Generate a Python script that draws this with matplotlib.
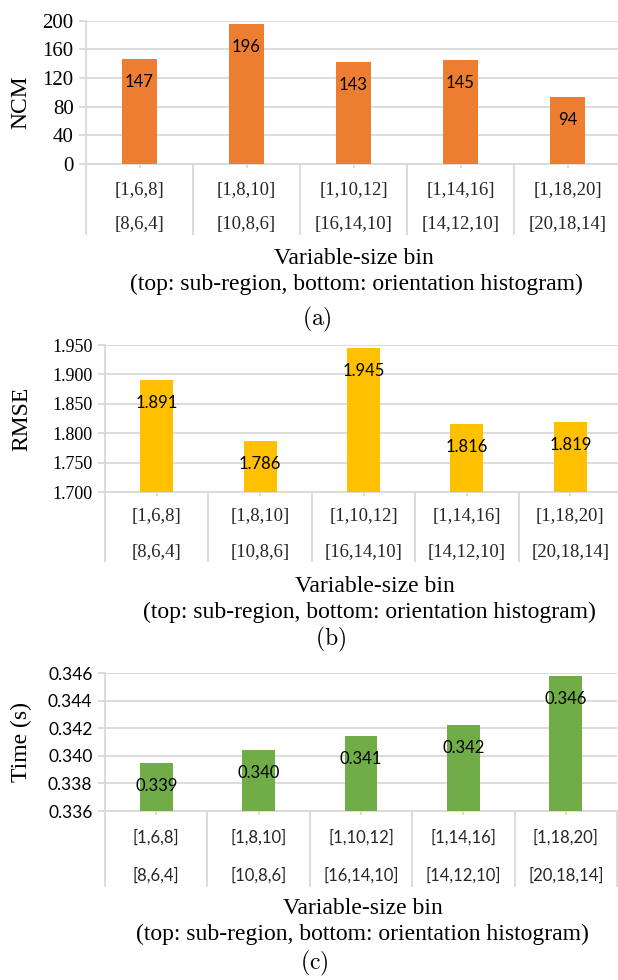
""" Three Excel-style bar charts: NCM, RMSE and time against variable-size bins """

import matplotlib
matplotlib.use('Agg')
import matplotlib.pyplot as plt
import numpy

# bin labels, top row: sub-region, bottom row: orientation histogram
sub_region = ['[1,6,8]', '[1,8,10]', '[1,10,12]', '[1,14,16]', '[1,18,20]']
orient_hist = ['[8,6,4]', '[10,8,6]', '[16,14,10]', '[14,12,10]', '[20,18,14]']

ncm = [147, 196, 143, 145, 94]
rmse = [1.891, 1.786, 1.945, 1.816, 1.819]
times = [0.33948, 0.34042, 0.34143, 0.34223, 0.34578]

ncm_ticks = [0, 40, 80, 120, 160, 200]
rmse_ticks = [1.700, 1.750, 1.800, 1.850, 1.900, 1.950]
time_ticks = [0.336, 0.338, 0.340, 0.342, 0.344, 0.346]

W, H = 618, 980
GRID = '#D9D9D9'
SERIF = 'Liberation Serif'
SANS = 'Lato'

plt.rcParams['mathtext.fontset'] = 'cm'
fig = plt.figure(figsize=(W / 100, H / 100), dpi=100)


def px_axes(left, top, right, bottom):
    return fig.add_axes([left / W, 1 - bottom / H, (right - left) / W, (bottom - top) / H])


def bar_panel(box, values, ticks, fmt, color, ylab, ylab_pos, tick_font, tick_size,
              cat_font, cat_size, rows, sep_len, xlab_pos, caption, cap_pos):
    ax = px_axes(*box)
    x = numpy.arange(len(values))
    ax.bar(x, values, width=0.32, color=color, zorder=3)
    ax.set_xlim(-0.5, len(values) - 0.5)
    ax.set_ylim(ticks[0], ticks[-1])
    ax.set_yticks(ticks)
    ax.set_yticklabels([fmt % t for t in ticks], fontfamily=tick_font, fontsize=tick_size)
    ax.yaxis.grid(True, color=GRID, lw=1.3, zorder=0)
    ax.tick_params(axis='y', length=5, width=1.3, color=GRID, pad=4)
    for s in ['top', 'right']:
        ax.spines[s].set_visible(False)
    for s in ['left', 'bottom']:
        ax.spines[s].set_color(GRID)
        ax.spines[s].set_linewidth(1.3)

    # category separators as long minor ticks, short marks at centres
    ax.set_xticks(x)
    ax.set_xticklabels([])
    ax.set_xticks(numpy.arange(len(values) + 1) - 0.5, minor=True)
    ax.tick_params(axis='x', which='major', direction='inout', length=6, width=1.3, color=GRID)
    ax.tick_params(axis='x', which='minor', direction='out', length=sep_len * 0.72,
                   width=1.3, color=GRID)

    for i in x:
        for labels, off in zip([sub_region, orient_hist], rows):
            ax.annotate(labels[i], xy=(i, 0), xycoords=('data', 'axes fraction'),
                        xytext=(0, -off * 0.72), textcoords='offset points',
                        ha='center', va='center', fontfamily=cat_font, fontsize=cat_size,
                        color='#262626')
        ax.annotate(fmt % values[i], xy=(i, values[i]), xytext=(0, -23 * 0.72),
                    textcoords='offset points', ha='center', va='center',
                    fontfamily=SANS, fontsize=12, color='black', zorder=4)

    fig.text(ylab_pos[0] / W, 1 - ylab_pos[1] / H, ylab, rotation=90, ha='center',
             va='center', fontfamily=SERIF, fontsize=17)
    fig.text(xlab_pos[0] / W, 1 - xlab_pos[1] / H, 'Variable-size bin', ha='center',
             va='center', fontfamily=SERIF, fontsize=17)
    fig.text(xlab_pos[2] / W, 1 - xlab_pos[3] / H,
             '(top: sub-region, bottom: orientation histogram)', ha='center',
             va='center', fontfamily=SERIF, fontsize=17)
    fig.text(cap_pos[0] / W, 1 - cap_pos[1] / H, r'$\mathrm{%s}$' % caption, ha='center',
             va='center', fontsize=17)
    return ax


bar_panel((86, 20.7, 621, 164), ncm, ncm_ticks, '%d', '#ED7D31', 'NCM', (21, 102),
          SERIF, 15, SERIF, 13.5, (26, 61), 71, (354, 258, 356, 284), '(a)', (317, 319))
bar_panel((105, 345, 622, 492), rmse, rmse_ticks, '%.3f', '#FFC000', 'RMSE', (22, 419),
          SERIF, 13, SERIF, 13.5, (25, 60), 70, (375, 586, 369, 612), '(b)', (331, 639))
bar_panel((105, 673, 617, 811), times, time_ticks, '%.3f', '#70AD47', 'Time (s)', (21, 742),
          SANS, 12.5, SANS, 12, (26, 64), 76, (363, 908, 362, 934), '(c)', (314, 963))

plt.savefig('out.png', dpi=100)
